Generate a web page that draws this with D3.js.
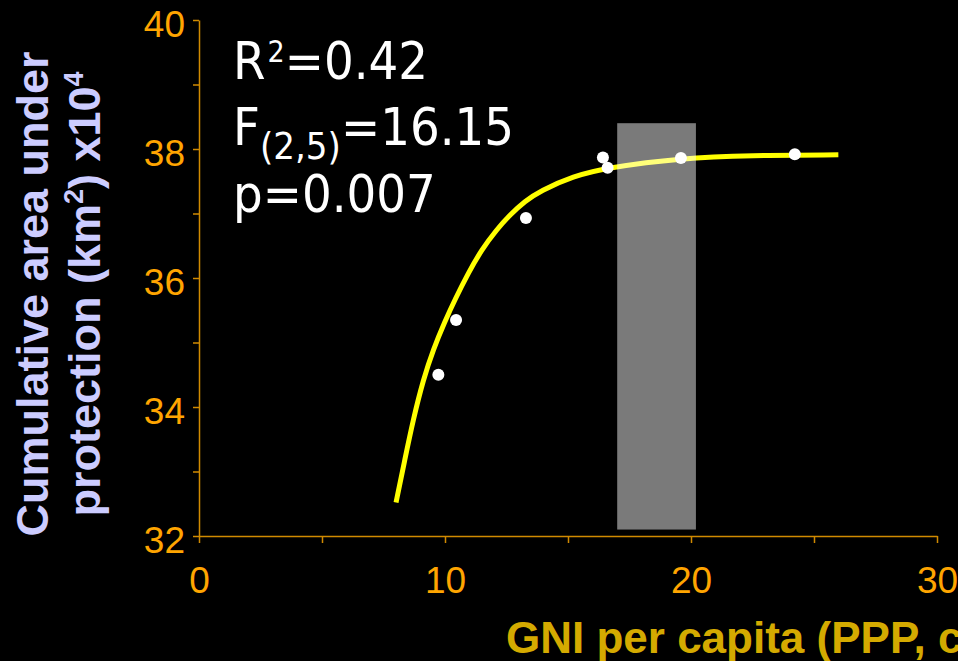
<!DOCTYPE html>
<meta charset="utf-8">
<style>
body { margin: 0; background: #000; }
svg { display: block; background: #000; }
.axis path, .axis line { stroke: #d08a00; stroke-width: 1.5px; }
.axis text { fill: #ffa500; font-family: "Liberation Sans", Arial, sans-serif; font-size: 37px; }
.stats text { fill: #fff; font-family: "DejaVu Sans Condensed", "DejaVu Sans", sans-serif; }
</style>
<svg width="958" height="661"></svg>
<script src="https://cdn.jsdelivr.net/npm/d3@7"></script>
<script>

// observed points (GNI per capita, area under protection)
var gniX  = [9.73, 10.45, 13.29, 16.42, 16.61, 19.59, 24.22];
var areaY = [34.50, 35.35, 36.93, 37.87, 37.71, 37.86, 37.92];

// fitted curve
var fitX = [8.01, 8.37, 8.71, 9.12, 9.52, 10.0, 10.41, 10.95, 11.49, 12.1, 12.64, 13.25, 13.86, 15.22, 16.57, 19.62, 22.4, 25.99];
var fitY = [32.52, 33.19, 33.81, 34.43, 34.89, 35.33, 35.67, 36.08, 36.44, 36.75, 36.98, 37.19, 37.35, 37.58, 37.71, 37.86, 37.9, 37.91];

// shaded band
var bandX = [17.0, 20.2];
var bandY = [32.1, 38.4];

var xTicks = [0, 5, 10, 15, 20, 25, 30];
var yTicks = [32, 33, 34, 35, 36, 37, 38, 39, 40];

var svg = d3.select("svg"),
    width = +svg.attr("width"),
    height = +svg.attr("height");

var margin = {top: 20, right: 21, bottom: 125, left: 199};

var x = d3.scaleLinear().domain([0, 30]).range([margin.left, width - margin.right]);
var y = d3.scaleLinear().domain([32, 40]).range([height - margin.bottom, margin.top]);

// fitted line
var line = d3.line()
    .x(function(d) { return x(d[0]); })
    .y(function(d) { return y(d[1]); })
    .curve(d3.curveBasis);

svg.append("path")
    .datum(d3.zip(fitX, fitY))
    .attr("fill", "none")
    .attr("stroke", "#ffff00")
    .attr("stroke-width", 5)
    .attr("d", line);

// band drawn over the line, whitish and half transparent
svg.append("rect")
    .attr("x", x(bandX[0]))
    .attr("width", x(bandX[1]) - x(bandX[0]))
    .attr("y", y(bandY[1]))
    .attr("height", y(bandY[0]) - y(bandY[1]))
    .attr("fill", "#fff")
    .attr("fill-opacity", 0.48);

svg.append("g")
    .selectAll("circle")
    .data(d3.zip(gniX, areaY))
    .enter().append("circle")
    .attr("cx", function(d) { return x(d[0]); })
    .attr("cy", function(d) { return y(d[1]); })
    .attr("r", 6)
    .attr("fill", "#fff");

// axes
var xAxis = svg.append("g")
    .attr("class", "axis")
    .attr("transform", "translate(0," + y(32) + ")")
    .call(d3.axisBottom(x)
        .tickValues(xTicks)
        .tickSize(7)
        .tickSizeOuter(0)
        .tickPadding(24)
        .tickFormat(function(d) { return d % 10 === 0 ? d : ""; }));

var yAxis = svg.append("g")
    .attr("class", "axis")
    .attr("transform", "translate(" + x(0) + ",0)")
    .call(d3.axisLeft(y)
        .tickValues(yTicks)
        .tickSize(6)
        .tickSizeOuter(0)
        .tickPadding(8)
        .tickFormat(function(d) { return d % 2 === 0 ? d : ""; }));
yAxis.selectAll("text").attr("dy", "0.45em");

// axis titles
var ytitle = svg.append("text")
    .attr("transform", "translate(48,294) rotate(-90)")
    .attr("text-anchor", "middle")
    .attr("fill", "#ccccff")
    .style("font-family", "'Liberation Sans', Arial, sans-serif")
    .style("font-weight", "bold")
    .style("font-size", "45px");
ytitle.append("tspan").attr("x", 0).attr("y", 0).text("Cumulative area under");
var l2 = ytitle.append("tspan").attr("x", 0).attr("y", 52);
l2.append("tspan").text("protection (km");
l2.append("tspan").attr("dy", -17).style("font-size", "27px").text("2");
l2.append("tspan").attr("dy", 17).text(") x10");
l2.append("tspan").attr("dy", -17).style("font-size", "27px").text("4");

svg.append("text")
    .attr("x", 506)
    .attr("y", 653)
    .attr("fill", "#d4aa00")
    .style("font-family", "'Liberation Sans', Arial, sans-serif")
    .style("font-weight", "bold")
    .style("font-size", "44px")
    .text("GNI per capita (PPP, current international $) x10\u00b3");

// statistics
var stats = svg.append("g").attr("class", "stats");
var t1 = stats.append("text").attr("x", 233).attr("y", 79).style("font-size", "52px");
t1.append("tspan").text("R");
t1.append("tspan").attr("dx", 2).attr("dy", -17).style("font-size", "30px").text("2");
t1.append("tspan").attr("dy", 17).text("=0.42");

var t2 = stats.append("text").attr("x", 233).attr("y", 145).style("font-size", "52px");
t2.append("tspan").text("F");
t2.append("tspan").attr("dy", 14).style("font-size", "38px").text("(2,5)");
t2.append("tspan").attr("dy", -14).text("=16.15");

stats.append("text").attr("x", 233).attr("y", 212).style("font-size", "52px").text("p=0.007");

</script>
